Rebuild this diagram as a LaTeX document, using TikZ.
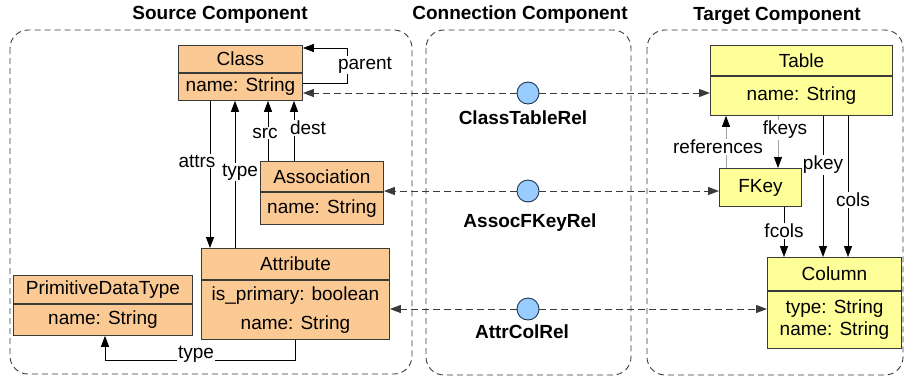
\documentclass[tikz,border=0pt]{standalone}
\usepackage{fontspec}
\setmainfont{Liberation Sans}
\usetikzlibrary{positioning,arrows.meta}
\definecolor{ora100}  {HTML}{FBC993}
\definecolor{yel100}  {HTML}{FFFF99}
\definecolor{sky300}  {HTML}{99CCFF}
\definecolor{navy700} {HTML}{1F3550}
\definecolor{grey500} {HTML}{A0A0A0}
\definecolor{grey800} {HTML}{3A3A3A}
\tikzset{
  box/.style   ={draw=grey800, line width=0.9pt, fill=ora100, inner sep=0pt,
                 align=center, font=\fontsize{19}{22}\selectfont},
  boxy/.style  ={box, fill=yel100},
  rel/.style   ={circle, draw=navy700, line width=0.9pt, fill=sky300,
                 minimum size=22pt, inner sep=0pt},
  relname/.style={font=\bfseries\fontsize{19}{22}\selectfont, inner sep=1pt},
  title/.style ={font=\bfseries\fontsize{19}{22}\selectfont, inner sep=1pt},
  frame/.style ={draw=grey800, line width=0.9pt, dash pattern=on 6pt off 4pt,
                 rounded corners=18pt},
  ar/.style    ={-{Triangle[length=11pt,width=8pt]}, draw=black, line width=1pt},
  arg/.style   ={-{Triangle[length=11pt,width=8pt,color=black]}, draw=grey500,
                 line width=0.9pt},
  dar/.style   ={-{Triangle[length=11pt,width=8pt]}, draw=grey800, line width=1pt,
                 dash pattern=on 7pt off 4pt},
  lbl/.style   ={font=\fontsize{19}{22}\selectfont, fill=white, inner sep=1pt}
}

\begin{document}
\begin{tikzpicture}[x=1pt, y=-1pt]
\useasboundingbox (0,0) rectangle (904,378);

\draw[frame] (10,30) rectangle (412,374);
\draw[frame] (426,30) rectangle (631,375);
\draw[frame] (647,30) rectangle (903,375);
\node[title] (tsrc) at (220,15) {Source Component};
\node[title] (tcon) at (520,15) {Connection Component};
\node[title] (ttgt) at (777,16) {Target Component};

\node[box, anchor=north west, minimum width=124pt, minimum height=27pt]
  (class) at (178,45) {Class};
\node[box, below=0pt of class, minimum width=124pt, minimum height=27pt]
  (classb) {name: String};
\node[box, anchor=north west, minimum width=123pt, minimum height=30pt]
  (assoc) at (260,161) {Association};
\node[box, below=0pt of assoc, minimum width=123pt, minimum height=32pt]
  (assocb) {name: String};
\node[box, anchor=north west, minimum width=188pt, minimum height=31pt]
  (attr) at (201,248) {Attribute};
\node[box, below=0pt of attr, minimum width=188pt, minimum height=59pt]
  (attrb) {is\_primary: boolean\\[7pt]name: String};
\node[box, anchor=north west, minimum width=179pt, minimum height=28pt]
  (prim) at (13,275) {PrimitiveDataType};
\node[box, below=0pt of prim, minimum width=179pt, minimum height=31pt]
  (primb) {name: String};

\node[boxy, anchor=north west, minimum width=182pt, minimum height=30pt]
  (table) at (710,45) {Table};
\node[boxy, below=0pt of table, minimum width=182pt, minimum height=39pt]
  (tableb) {name: String};
\node[boxy, anchor=north west, minimum width=82pt, minimum height=38pt]
  (fkey) at (719,168) {FKey};
\node[boxy, anchor=north west, minimum width=134pt, minimum height=33pt]
  (column) at (767,257) {Column};
\node[boxy, below=0pt of column, minimum width=134pt, minimum height=57pt]
  (columnb) {type: String\\name: String};

\node[rel] (ctr) at (528,93) {};
\node[rel] (afr) at (528,191) {};
\node[rel] (acr) at (528,309) {};
\node[relname] (nctr) at (523,118) {ClassTableRel};
\node[relname] (nafr) at (530,223) {AssocFKeyRel};
\node[relname] (nacr) at (522,332) {AttrColRel};

\draw[dar] (ctr) -- (ctr -| classb.east);
\draw[dar] (ctr) -- (ctr -| tableb.west);
\draw[dar] (afr) -- (afr -| assocb.east);
\draw[dar] (afr) -- (afr -| fkey.west);
\draw[dar] (acr) -- (acr -| attrb.east);
\draw[dar] (acr) -- (acr -| columnb.west);

\draw[ar] (classb.east |- 0,83) -| (347,48) -- (class.east |- 0,48);
\draw[ar] (classb.south -| 210,0) -- (attr.north -| 210,0);
\draw[ar] (attr.north -| 235,0) -- (classb.south -| 235,0);
\draw[ar] (assoc.north -| 268,0) -- (classb.south -| 268,0);
\draw[ar] (assoc.north -| 294,0) -- (classb.south -| 294,0);
\draw[ar] (attrb.south -| 295,0) -- ++(0,21) -| (primb.south -| 105,0);

\draw[arg] (fkey.north -| 726,0) -- (tableb.south -| 726,0);
\draw[arg] (tableb.south -| 778,0) -- (fkey.north -| 778,0);
\draw[ar] (tableb.south -| 823,0) -- (column.north -| 823,0);
\draw[ar] (tableb.south -| 848,0) -- (column.north -| 848,0);
\draw[ar] (fkey.south -| 784,0) -- (column.north -| 784,0);

\node[lbl] (lparent) at (365,65) {parent};
\node[lbl] (lattrs) at (197,161) {attrs};
\node[lbl] (ltype) at (240,172) {type};
\node[lbl] (lsrc) at (265,133) {src};
\node[lbl] (ldest) at (308,128) {dest};
\node[lbl] (lptype) at (196,354) {type};
\node[lbl] (lref) at (718,147) {references};
\node[lbl] (lfkeys) at (785,130) {fkeys};
\node[lbl] (lpkey) at (823,165) {pkey};
\node[lbl] (lcols) at (853,200) {cols};
\node[lbl] (lfcols) at (784,231) {fcols};
\end{tikzpicture}
\end{document}
